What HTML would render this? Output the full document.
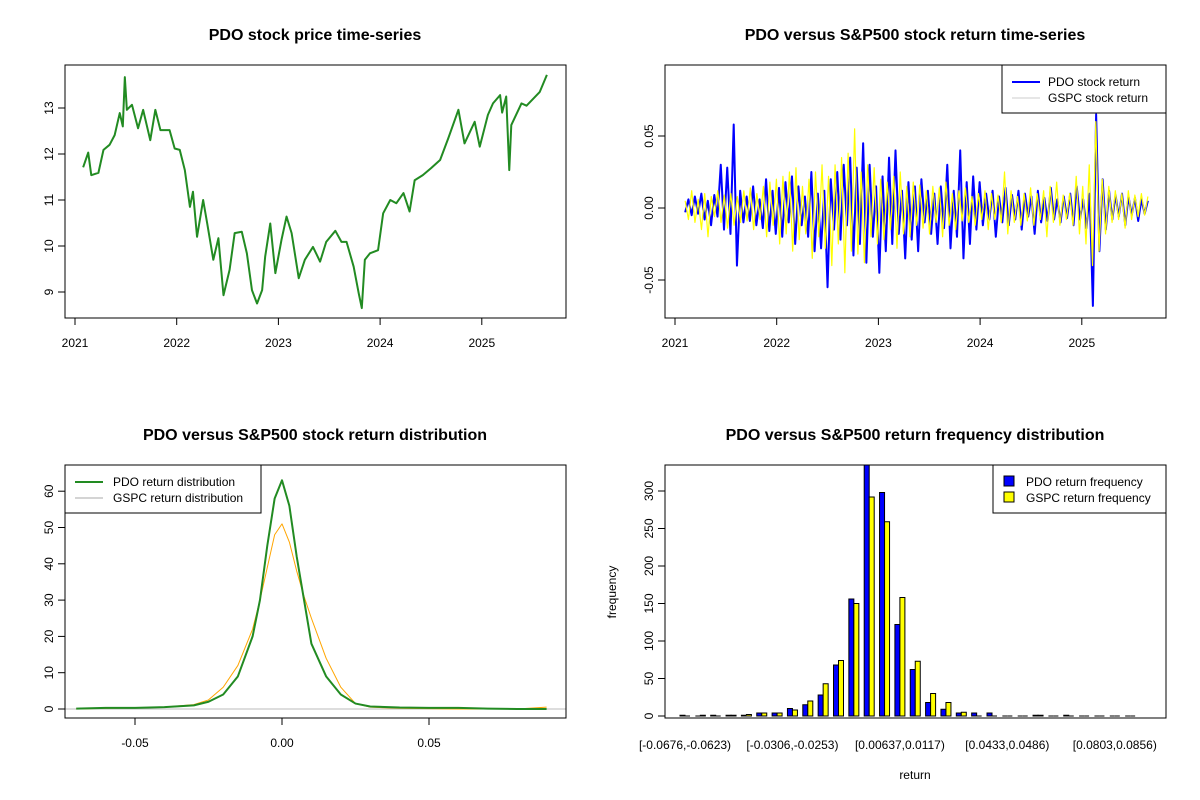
<!DOCTYPE html>
<html><head><meta charset="utf-8"><style>
body{margin:0;background:#fff}
svg{display:block;font-family:"Liberation Sans",Arial,sans-serif}
.t{font-weight:bold;font-size:16px;text-anchor:middle}
.tk{font-size:12px}
</style></head><body>
<svg id="s" width="1200" height="800" viewBox="0 0 1200 800">
<rect width="1200" height="800" fill="#fff"/>
<text class="t" x="315" y="40">PDO stock price time-series</text>
<text class="t" x="915" y="40">PDO versus S&amp;P500 stock return time-series</text>
<text class="t" x="315" y="440">PDO versus S&amp;P500 stock return distribution</text>
<text class="t" x="915" y="440">PDO versus S&amp;P500 return frequency distribution</text>
<g id="g1"></g>
<g id="g2"></g>
<g id="g3"></g>
<g id="g4"></g>
</svg>
<script>
// ---- data ----
const priceYears=[2021.08,2021.13,2021.16,2021.23,2021.28,2021.34,2021.39,2021.44,2021.47,2021.49,2021.51,2021.56,2021.62,2021.67,2021.74,2021.79,2021.84,2021.93,2021.98,2022.03,2022.08,2022.13,2022.16,2022.20,2022.26,2022.30,2022.36,2022.41,2022.46,2022.52,2022.57,2022.64,2022.69,2022.74,2022.79,2022.84,2022.87,2022.92,2022.97,2023.03,2023.08,2023.13,2023.20,2023.26,2023.34,2023.41,2023.47,2023.56,2023.62,2023.67,2023.74,2023.79,2023.82,2023.85,2023.90,2023.98,2024.03,2024.10,2024.16,2024.23,2024.29,2024.34,2024.42,2024.50,2024.59,2024.67,2024.77,2024.83,2024.93,2024.98,2025.06,2025.11,2025.18,2025.20,2025.24,2025.27,2025.29,2025.39,2025.44,2025.57,2025.64];
const prices=[11.71,12.03,11.54,11.59,12.09,12.2,12.41,12.89,12.6,13.67,12.96,13.07,12.56,12.96,12.3,12.96,12.52,12.52,12.12,12.09,11.65,10.85,11.18,10.2,11.0,10.49,9.7,10.17,8.93,9.48,10.28,10.31,9.84,9.04,8.75,9.04,9.77,10.49,9.41,10.13,10.64,10.28,9.3,9.7,9.98,9.66,10.09,10.33,10.09,10.09,9.55,8.97,8.65,9.7,9.84,9.91,10.71,11.0,10.93,11.15,10.75,11.43,11.54,11.69,11.87,12.34,12.96,12.23,12.7,12.16,12.85,13.1,13.28,12.9,13.25,11.65,12.63,13.1,13.05,13.35,13.72];
const priceTicks=[9,10,11,12,13];
const yearTicks=[2021,2022,2023,2024,2025];
const pdoRet=[-3,6,-5,8,-4,10,-8,5,-12,9,-6,30,-15,28,-18,58,-40,12,-10,8,-9,15,-12,6,-14,20,-16,12,-18,14,-20,18,-10,22,-25,15,-12,8,-20,25,-30,10,-28,12,-55,20,-15,25,-22,30,-12,35,-33,28,-25,45,-38,30,-20,15,-45,22,-30,35,-25,40,-18,12,-35,18,-22,15,-30,20,-10,12,-18,10,-25,15,-14,30,-28,12,-20,40,-35,18,-25,22,-15,18,-12,10,-8,12,-20,8,-10,14,-12,9,-8,12,-15,10,-6,8,-18,12,-10,7,-9,14,-8,6,-10,8,-7,10,-12,15,-8,6,-14,10,-68,65,-30,20,-15,12,-8,9,-6,10,-12,8,-5,7,-9,6,-4,5];
const gspcRet=[5,-8,12,-10,6,-15,10,-20,8,-6,12,-10,9,-14,10,-12,8,-10,12,-9,14,-15,10,-8,15,-20,18,-12,20,-25,22,-18,25,-30,28,-22,15,-18,20,-35,25,-20,30,-28,22,-40,30,-25,35,-45,38,-30,55,-32,25,-38,30,-20,28,-25,20,-22,18,-15,22,-28,25,-18,15,-20,18,-12,16,-14,12,-18,15,-10,14,-20,18,-12,10,-15,12,-9,14,-10,8,-12,10,-8,12,-15,10,-8,9,-10,25,-18,12,-10,8,-12,10,-9,14,-12,10,-8,12,-20,15,-10,18,-12,9,-8,10,-12,22,-18,15,-25,30,-40,60,-30,20,-18,15,-10,12,-8,10,-14,12,-8,9,-6,10,-5,8];
const retTicks=[-0.05,0,0.05];
const retTickLabels=["-0.05","0.00","0.05"];
const densX=[-0.07,-0.06,-0.05,-0.04,-0.03,-0.025,-0.02,-0.015,-0.01,-0.0075,-0.005,-0.0025,0,0.0025,0.005,0.0075,0.01,0.015,0.02,0.025,0.03,0.04,0.05,0.06,0.07,0.08,0.09];
const pdoDens=[0.1,0.3,0.3,0.5,1,2,4,9,20,30,45,58,63,56,42,30,18,9,4,1.5,0.7,0.4,0.3,0.3,0.1,0,0];
const gspcDens=[0,0.2,0.3,0.5,1.2,2.5,6,12,22,30,39,48,51,46,38,31,25,14,6,1.5,0.5,0.2,0.1,0,0,0,0.5];
const densYTicks=[0,10,20,30,40,50,60];
const densXTicks=[-0.05,0,0.05];
const densXLabels=["-0.05","0.00","0.05"];
const pdoFreq=[1,0,1,1,1,4,4,10,15,28,68,156,340,298,122,62,18,9,4,4,4,0,0,1,0,1,0,0,0,0];
const gspcFreq=[0,1,0,1,2,4,4,8,20,43,74,150,292,259,158,73,30,18,5,0,0,0,0,1,0,0,0,0,0,0];
const binLabels=["[-0.0676,-0.0623)","[-0.0306,-0.0253)","[0.00637,0.0117)","[0.0433,0.0486)","[0.0803,0.0856)"];
const binLabelIdx=[0,7,14,21,28];
const freqTicks=[0,50,100,150,200,250,300];

const NS="http://www.w3.org/2000/svg";
function mk(p,tag,at,txt){const e=document.createElementNS(NS,tag);for(const k in at)e.setAttribute(k,at[k]);if(txt!==undefined)e.textContent=txt;p.appendChild(e);return e;}
function box(g,x0,y0,x1,y1){const r=mk(g,'rect',{x:x0,y:y0,width:x1-x0,height:y1-y0,fill:'none',stroke:'#000','stroke-width':1});}
function yAxis(g,x,vals,labs,fy){vals.forEach((v,i)=>{const y=fy(v);mk(g,'line',{x1:x,x2:x-7,y1:y,y2:y,stroke:'#000'});const t=mk(g,'text',{class:'tk',x:x-12,y:y,transform:`rotate(-90 ${x-12} ${y})`,'text-anchor':'middle'},labs[i]);});}
function xAxis(g,y,vals,labs,fx){vals.forEach((v,i)=>{const x=fx(v);mk(g,'line',{x1:x,x2:x,y1:y,y2:y+7,stroke:'#000'});const t=mk(g,'text',{class:'tk',x:x,y:y+29,'text-anchor':'middle'},labs[i]);});}
function poly(g,xs,ys,fx,fy,col,w,name){const p=mk(g,'polyline',{points:xs.map((x,i)=>fx(x)+','+fy(ys[i])).join(' '),fill:'none',stroke:col,'stroke-width':w,'stroke-linejoin':'round'});}

// Panel 1
{const g=document.getElementById('g1');
const fx=v=>75+(v-2021)*101.7, fy=v=>292-(v-9)*46;
poly(g,priceYears,prices,fx,fy,'#228B22',2,'price-line');
box(g,65,65,566,318);
yAxis(g,65,priceTicks,priceTicks.map(String),fy);
xAxis(g,318,yearTicks,yearTicks.map(String),fx);}

// Panel 2
{const g=document.getElementById('g2');
const fx=v=>675+(v-2021)*101.7, fy=v=>208-v*1440;
const n=pdoRet.length, yrs=pdoRet.map((_,i)=>2021.1+i*(2025.65-2021.1)/(n-1));
const m=gspcRet.length, yrs2=gspcRet.map((_,i)=>2021.1+i*(2025.65-2021.1)/(m-1));
poly(g,yrs,pdoRet.map(v=>v/1000),fx,fy,'#0000FF',2,'pdo-return-line');
poly(g,yrs2,gspcRet.map(v=>v/1000),fx,fy,'#FFFF00',1.2,'gspc-return-line');
box(g,665,65,1166,318);
yAxis(g,665,retTicks,retTickLabels,fy);
xAxis(g,318,yearTicks,yearTicks.map(String),fx);
const L=mk(g,'g',{});
mk(L,'rect',{x:1002,y:65,width:164,height:48,fill:'#fff',stroke:'#000'});
mk(L,'line',{x1:1012,x2:1040,y1:82,y2:82,stroke:'#00f','stroke-width':2});
mk(L,'text',{class:'tk',x:1048,y:86},'PDO stock return');
mk(L,'line',{x1:1012,x2:1040,y1:98,y2:98,stroke:'#ccc','stroke-width':1});
mk(L,'text',{class:'tk',x:1048,y:102},'GSPC stock return');}

// Panel 3
{const g=document.getElementById('g3');
const fx=v=>282+v*2940, fy=v=>709-v*3.63;
mk(g,'line',{x1:65,x2:566,y1:709,y2:709,stroke:'#bbb'});
poly(g,densX,gspcDens,fx,fy,'#FFA500',1,'gspc-density-line');
poly(g,densX,pdoDens,fx,fy,'#228B22',2,'pdo-density-line');
box(g,65,465,566,718);
yAxis(g,65,densYTicks,densYTicks.map(String),fy);
xAxis(g,718,densXTicks,densXLabels,fx);
const L=mk(g,'g',{});
mk(L,'rect',{x:65,y:465,width:196,height:48,fill:'#fff',stroke:'#000'});
mk(L,'line',{x1:75,x2:103,y1:482,y2:482,stroke:'#228B22','stroke-width':2});
mk(L,'text',{class:'tk',x:113,y:486},'PDO return distribution');
mk(L,'line',{x1:75,x2:103,y1:498,y2:498,stroke:'#aaa'});
mk(L,'text',{class:'tk',x:113,y:502},'GSPC return distribution');}

// Panel 4
{const g=document.getElementById('g4');
const fx=i=>685+i*15.35, fy=v=>716-v*0.75;
const cl=mk(g,'clipPath',{id:'hc'});mk(cl,'rect',{x:665,y:465,width:501,height:253});
const bg=mk(g,'g',{'clip-path':'url(#hc)'});
pdoFreq.forEach((v,i)=>{const r=mk(bg,'rect',{x:fx(i)-5,y:fy(v),width:5,height:v*0.75,fill:'#00f',stroke:'#000','stroke-width':1});
 if(v===0){mk(bg,'line',{x1:fx(i)-5,x2:fx(i),y1:fy(0),y2:fy(0),stroke:'#000'});}});
gspcFreq.forEach((v,i)=>{const r=mk(bg,'rect',{x:fx(i),y:fy(v),width:5,height:v*0.75,fill:'#ff0',stroke:'#000','stroke-width':1});
 if(v===0){mk(bg,'line',{x1:fx(i),x2:fx(i)+5,y1:fy(0),y2:fy(0),stroke:'#000'});}});
box(g,665,465,1166,718);
yAxis(g,665,freqTicks,freqTicks.map(String),fy);
binLabelIdx.forEach((b,i)=>{const t=mk(g,'text',{class:'tk',x:fx(b),y:749,'text-anchor':'middle'},binLabels[i]);});
const xl=mk(g,'text',{class:'tk',x:915,y:779,'text-anchor':'middle'},'return');
const yl=mk(g,'text',{class:'tk',x:616,y:592,'text-anchor':'middle',transform:'rotate(-90 616 592)'},'frequency');
const L=mk(g,'g',{});
mk(L,'rect',{x:993,y:465,width:173,height:48,fill:'#fff',stroke:'#000'});
mk(L,'rect',{x:1004,y:476,width:10,height:10,fill:'#00f',stroke:'#000'});
mk(L,'text',{class:'tk',x:1026,y:486},'PDO return frequency');
mk(L,'rect',{x:1004,y:492,width:10,height:10,fill:'#ff0',stroke:'#000'});
mk(L,'text',{class:'tk',x:1026,y:502},'GSPC return frequency');}
</script>
</body></html>
